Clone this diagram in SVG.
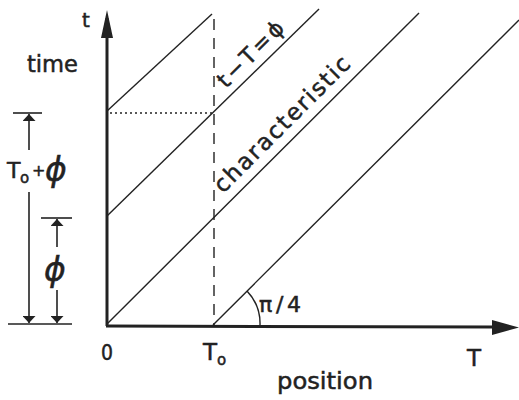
<svg xmlns="http://www.w3.org/2000/svg" width="519" height="400" viewBox="0 0 519 400">
  <defs>
    <marker id="dimHead" viewBox="0 0 10 10" refX="10" refY="5" markerWidth="7" markerHeight="13" markerUnits="userSpaceOnUse" orient="auto" preserveAspectRatio="none">
      <path d="M0,0 L10,5 L0,10 Z" fill="#222"/>
    </marker>
    <style>
      .txt { font-family: "DejaVu Sans", "Liberation Sans", sans-serif; fill: #222; stroke: #222; stroke-width: 0.5; }
      .thin { stroke: #222; stroke-width: 1.4; fill: none; }
      .axis { stroke: #222; stroke-width: 3; fill: none; }
      .dim { stroke: #222; stroke-width: 1.6; fill: none; }
    </style>
  </defs>
  <rect width="519" height="400" fill="#ffffff"/>

  <g id="connectors">
    <!-- axes -->
    <line class="axis" x1="107" y1="326" x2="107" y2="18"/>
    <path d="M101,38 L107,10 L113,38 Z" fill="#222"/>
    <line class="axis" x1="106" y1="326" x2="494" y2="327"/>
    <path d="M492,320 L519,327.5 L492,335 Z" fill="#222"/>

    <!-- characteristic lines -->
    <line class="thin" x1="107" y1="324" x2="419" y2="13"/>
    <line class="thin" x1="107" y1="216" x2="319" y2="9"/>
    <line class="thin" x1="107" y1="111" x2="212" y2="14"/>
    <line class="thin" x1="213" y1="325" x2="519" y2="20"/>

    <!-- dashed vertical at T0 -->
    <line class="thin" x1="214" y1="19" x2="214" y2="325" stroke-dasharray="11 8" stroke-width="1.8"/>
    <!-- dotted horizontal -->
    <line class="thin" x1="110" y1="113" x2="212" y2="113" stroke-dasharray="2 3" stroke-width="1.6"/>

    <!-- pi/4 arc -->
    <path class="thin" d="M247,291 A47,47 0 0 1 260,325" stroke-width="1.6"/>

    <!-- dimension: T0 + phi -->
    <line class="dim" x1="13" y1="113" x2="42" y2="113"/>
    <line class="dim" x1="29" y1="150" x2="29" y2="114" marker-end="url(#dimHead)"/>
    <line class="dim" x1="29" y1="192" x2="29" y2="323" marker-end="url(#dimHead)"/>

    <!-- dimension: phi -->
    <line class="dim" x1="41" y1="218" x2="72" y2="218"/>
    <line class="dim" x1="57" y1="247" x2="57" y2="219" marker-end="url(#dimHead)"/>
    <line class="dim" x1="57" y1="290" x2="57" y2="323" marker-end="url(#dimHead)"/>

    <line class="dim" x1="8" y1="324" x2="72" y2="324"/>
  </g>

  <g id="label-t"><text class="txt" x="82" y="27" font-size="20">t</text></g>
  <g id="label-time"><text class="txt" x="27" y="72" font-size="23" textLength="51" lengthAdjust="spacingAndGlyphs">time</text></g>
  <g id="label-T0phi">
    <text class="txt" x="7" y="178" font-size="22">T</text>
    <text class="txt" x="20" y="183" font-size="15">o</text>
    <text class="txt" x="32" y="176" font-size="16">+</text>
    <text class="txt" x="45" y="181" font-size="33" font-style="italic">ϕ</text>
  </g>
  <g id="label-phi"><text class="txt" x="44" y="281" font-size="33" font-style="italic">ϕ</text></g>
  <g id="label-0"><text class="txt" x="101" y="360" font-size="22" textLength="12" lengthAdjust="spacingAndGlyphs">0</text></g>
  <g id="label-T0">
    <text class="txt" x="203" y="360" font-size="23">T</text>
    <text class="txt" x="217" y="365" font-size="15">o</text>
  </g>
  <g id="label-T"><text class="txt" x="467" y="366" font-size="23">T</text></g>
  <g id="label-position"><text class="txt" x="277" y="389" font-size="23" textLength="96" lengthAdjust="spacingAndGlyphs">position</text></g>
  <g id="label-pi4"><text class="txt" x="259" y="312" font-size="22" textLength="42" lengthAdjust="spacing">π/4</text></g>
  <g id="label-tT">
    <text class="txt" transform="translate(226,89) rotate(-45)" font-size="22" textLength="84" lengthAdjust="spacing">t−T=ϕ</text>
  </g>
  <g id="label-characteristic">
    <text class="txt" transform="translate(223,194) rotate(-45)" font-size="23" textLength="182" lengthAdjust="spacing">characteristic</text>
  </g>
</svg>
